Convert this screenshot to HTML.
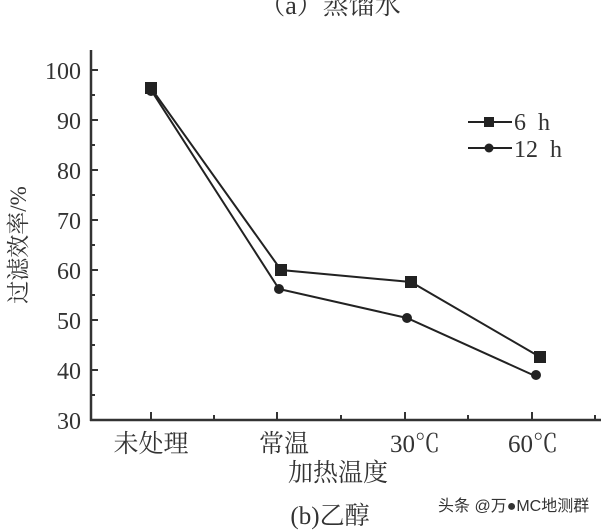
<!DOCTYPE html>
<html><head><meta charset="utf-8"><style>
body{margin:0;background:#fff;}
svg{display:block}
text{font-family:"Liberation Serif","Noto Serif CJK SC",serif;fill:#333}
</style></head><body>
<svg width="613" height="532" xmlns="http://www.w3.org/2000/svg">
<text x="330" y="14" font-size="26" text-anchor="middle">（a）蒸馏水</text>
<g stroke="#333" stroke-width="2.5" fill="none">
<line x1="91" y1="50" x2="91" y2="421"/>
<line x1="90" y1="420" x2="601" y2="420"/>
</g>
<g stroke="#333" stroke-width="2">
<line x1="91" y1="70" x2="98" y2="70"/><line x1="91" y1="120" x2="98" y2="120"/><line x1="91" y1="170" x2="98" y2="170"/><line x1="91" y1="220" x2="98" y2="220"/><line x1="91" y1="270" x2="98" y2="270"/><line x1="91" y1="320" x2="98" y2="320"/><line x1="91" y1="370" x2="98" y2="370"/>
<line x1="91" y1="95" x2="95" y2="95"/><line x1="91" y1="145" x2="95" y2="145"/><line x1="91" y1="195" x2="95" y2="195"/><line x1="91" y1="245" x2="95" y2="245"/><line x1="91" y1="295" x2="95" y2="295"/><line x1="91" y1="345" x2="95" y2="345"/><line x1="91" y1="395" x2="95" y2="395"/>
<line x1="151" y1="420" x2="151" y2="412"/><line x1="277" y1="420" x2="277" y2="412"/><line x1="405" y1="420" x2="405" y2="412"/><line x1="532" y1="420" x2="532" y2="412"/>
<line x1="214" y1="420" x2="214" y2="415"/><line x1="341" y1="420" x2="341" y2="415"/><line x1="468" y1="420" x2="468" y2="415"/><line x1="595" y1="420" x2="595" y2="415"/>
</g>
<g font-size="24" text-anchor="end">
<text x="81" y="79">100</text><text x="81" y="129">90</text><text x="81" y="179">80</text><text x="81" y="229">70</text><text x="81" y="279">60</text><text x="81" y="329">50</text><text x="81" y="379">40</text><text x="81" y="429">30</text>
</g>
<g font-size="25" text-anchor="middle">
<text x="151" y="452">未处理</text><text x="284" y="452">常温</text><text x="415" y="452">30℃</text><text x="533" y="452">60℃</text>
<text x="338" y="481">加热温度</text>
<text x="330" y="524">(b)乙醇</text>
</g>
<text transform="translate(26,245) rotate(-90)" font-size="23" text-anchor="middle">过滤效率/%</text>
<g stroke="#222" stroke-width="2" fill="none">
<polyline points="151,88 281,270 411,282 540,357"/>
<polyline points="151,90 279,289 407,318 533,375"/>
<line x1="468" y1="122" x2="512" y2="122"/><line x1="468" y1="148" x2="512" y2="148"/>
</g>
<g fill="#222">
<rect x="145" y="82" width="12" height="12"/><rect x="275" y="264" width="12" height="12"/><rect x="405" y="276" width="12" height="12"/><rect x="534" y="351" width="12" height="12"/>
<circle cx="151" cy="91" r="5"/><circle cx="279" cy="289" r="5"/><circle cx="407" cy="318" r="5"/><circle cx="536" cy="375" r="5"/>
<rect x="484" y="117" width="10" height="10"/><circle cx="489" cy="148" r="4.5"/>
</g>
<text x="514" y="130" font-size="24" xml:space="preserve">6  h</text>
<text x="514" y="157" font-size="24" xml:space="preserve">12  h</text>
<text x="438" y="511" font-size="16" fill="#222" style="font-family:'Liberation Sans','Noto Sans CJK SC',sans-serif">头条 @万●MC地测群</text>
</svg>
</body></html>
